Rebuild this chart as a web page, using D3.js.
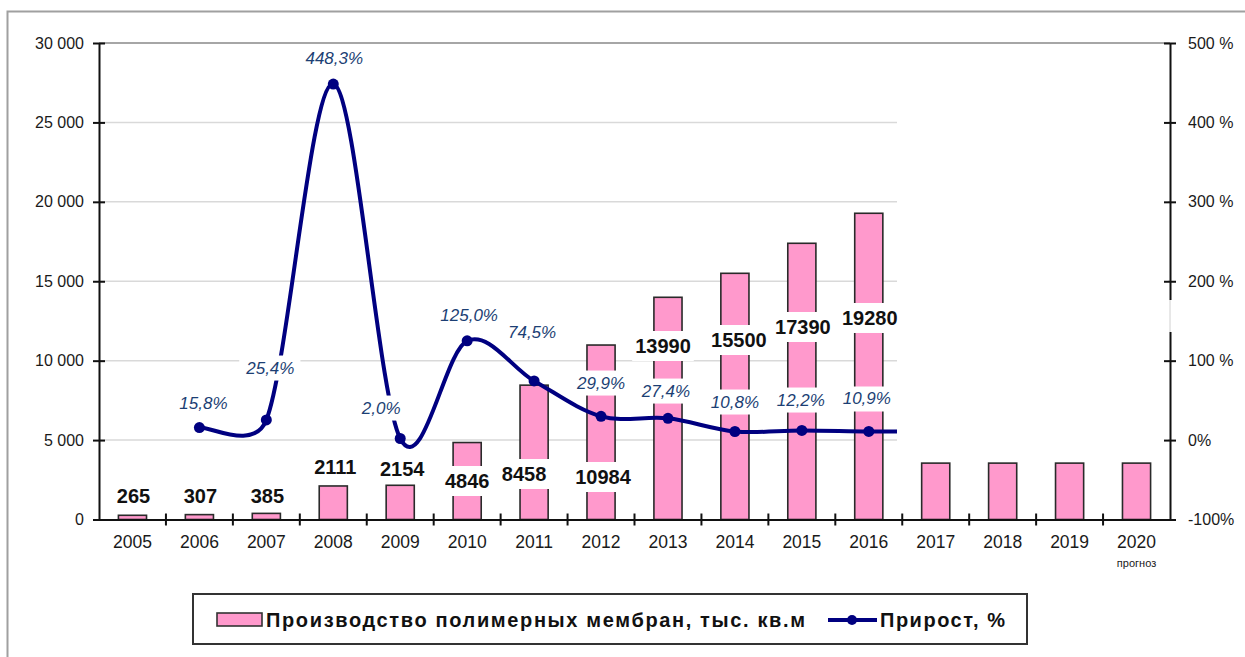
<!DOCTYPE html>
<html><head><meta charset="utf-8">
<script src="https://cdn.jsdelivr.net/npm/d3@7"></script>
<style>
body{margin:0;background:#fff;}
svg{display:block;font-family:"Liberation Sans",Arial,sans-serif;}
</style>
</head><body>
<svg id="c" width="1245" height="657"></svg>
<script>
// ---------------- data ----------------
const years = ["2005","2006","2007","2008","2009","2010","2011","2012","2013","2014","2015","2016","2017","2018","2019","2020"];
const production = [265,307,385,2111,2154,4846,8458,10984,13990,15500,17390,19280,3550,3550,3550,3550];
const productionShown = [true,true,true,true,true,true,true,true,true,true,true,true,false,false,false,false];
const growth = [null,15.8,25.4,448.3,2.0,125.0,74.5,29.9,27.4,10.8,12.2,10.9,11.0,null,null,null];
const growthShown = [false,true,true,true,true,true,true,true,true,true,true,true,false,false,false,false];
const leftTicks = [0,5000,10000,15000,20000,25000,30000];
const leftTickLabels = ["0","5 000","10 000","15 000","20 000","25 000","30 000"];
const rightTicks = [-100,0,100,200,300,400,500];
const rightTickLabels = ["-100%","0%","100 %","200 %","300 %","400 %","500 %"];
const yearNote = {year:"2020", text:"прогноз"};
const legendBars = "Производство полимерных мембран, тыс. кв.м";
const legendLine = "Прирост, %";

// ---------------- layout (label placement, in axis units / px offsets) ----------------
const barLabelAt = [1480,1480,1480,3305,3180,2424,2865,2676,10924,11301,12120,12687,null,null,null,null];
const barLabelDx = [1,1,1,2,2,0,-10,2,-5,4,1,1,0,0,0,0];
const growthLabelAt = [null,47.2,91.3,481.6,40.9,158,136.6,72.4,62.3,48.5,51,52.3,null,null,null,null];
const growthLabelDx = [0,4,4,1,-19,2,-2,0,-2,0,-1,-2,0,0,0,0];

// ---------------- chart ----------------
const svg = d3.select("#c");
const plot = {left:99, right:1170, top:43, bottom:519.5};
const x = d3.scaleBand().domain(years).range([plot.left, plot.right]).paddingInner(0.58).paddingOuter(0.29);
const y = d3.scaleLinear().domain([0,30000]).range([plot.bottom, plot.top]);
const y2 = d3.scaleLinear().domain([-100,500]).range([plot.bottom, plot.top]);
const cx = yr => x(yr) + x.bandwidth()/2;

// outer frame
svg.append("rect").attr("x",7.5).attr("y",11.5).attr("width",1400).attr("height",900)
  .attr("fill","none").attr("stroke","#a0a0a0").attr("stroke-width",2);

// gridlines
svg.append("g").selectAll("line").data(leftTicks.filter(t => t > 0 && t < 30000)).join("line")
  .attr("x1",plot.left).attr("x2",plot.right)
  .attr("y1",d => y(d)).attr("y2",d => y(d))
  .attr("stroke","#d9d9d9").attr("stroke-width",1.5);
svg.append("line").attr("x1",plot.left).attr("x2",plot.right)
  .attr("y1",y(30000)).attr("y2",y(30000)).attr("stroke","#a6a6a6").attr("stroke-width",2);

// bars
const barData = years.map((yr,i) => ({yr, v:production[i], i}));
svg.append("g").selectAll("rect").data(barData).join("rect")
  .attr("x",d => x(d.yr)).attr("width",x.bandwidth())
  .attr("y",d => y(d.v)).attr("height",d => y(0) - y(d.v))
  .attr("fill","#ff99cc").attr("stroke","#2a2a2a").attr("stroke-width",1.6);

// growth line: spreadsheet-style smoothed Bezier through the scaled points
const pts = years.map((yr,i) => ({yr, v:growth[i], i})).filter(d => d.v != null);
function smoothPath(P){
  const p = d3.path();
  const n = P.length;
  const ctl = (t, seg) => { const L = Math.hypot(t[0], t[1]); return L === 0 ? 0 : Math.min(L/6, seg/2)/L; };
  p.moveTo(P[0][0], P[0][1]);
  for (let i = 0; i < n-1; i++){
    const p0 = P[Math.max(i-1,0)], p1 = P[i], p2 = P[i+1], p3 = P[Math.min(i+2,n-1)];
    const seg = Math.hypot(p2[0]-p1[0], p2[1]-p1[1]);
    const t1 = [p2[0]-p0[0], p2[1]-p0[1]], t2 = [p3[0]-p1[0], p3[1]-p1[1]];
    const s1 = ctl(t1, seg), s2 = ctl(t2, seg);
    p.bezierCurveTo(p1[0]+t1[0]*s1, p1[1]+t1[1]*s1, p2[0]-t2[0]*s2, p2[1]-t2[1]*s2, p2[0], p2[1]);
  }
  return p.toString();
}
svg.append("path").attr("d", smoothPath(pts.map(d => [cx(d.yr), y2(d.v)])))
  .attr("fill","none").attr("stroke","#000080").attr("stroke-width",4).attr("stroke-linejoin","round");
svg.append("g").selectAll("circle").data(pts).join("circle")
  .attr("cx",d => cx(d.yr)).attr("cy",d => y2(d.v)).attr("r",5.5).attr("fill","#000080");

// erased (white) area of the original picture
svg.append("rect").attr("x",897).attr("y",60).attr("width",1168-897).attr("height",448-60).attr("fill","#fff");

// left axis
const gl = svg.append("g").attr("transform",`translate(${plot.left},0)`)
  .call(d3.axisLeft(y).tickValues(leftTicks).tickFormat((d,i) => leftTickLabels[i]).tickSizeInner(6).tickSizeOuter(0).tickPadding(9));
gl.select(".domain").attr("stroke","#111").attr("stroke-width",2);
gl.selectAll(".tick line").attr("x1",6).attr("stroke","#111").attr("stroke-width",2);
gl.selectAll(".tick text").attr("font-size",16).attr("fill","#1a1a1a").attr("font-family","Liberation Sans, Arial, sans-serif");

// right axis
const gr = svg.append("g").attr("transform",`translate(${plot.right},0)`)
  .call(d3.axisRight(y2).tickValues(rightTicks).tickFormat((d,i) => rightTickLabels[i]).tickSizeInner(6).tickSizeOuter(0).tickPadding(12));
gr.select(".domain").attr("stroke","#111").attr("stroke-width",2);
gr.selectAll(".tick line").attr("x1",-6).attr("stroke","#111").attr("stroke-width",2);
gr.selectAll(".tick text").attr("font-size",16).attr("fill","#1a1a1a").attr("font-family","Liberation Sans, Arial, sans-serif");
// gap in right axis line
svg.append("rect").attr("x",plot.right-4).attr("y",300).attr("width",8).attr("height",32).attr("fill","#fff");
svg.append("line").attr("x1",plot.right).attr("x2",plot.right).attr("y1",300).attr("y2",332).attr("stroke","#d0d0d0").attr("stroke-width",1);

// bottom axis
const gb = svg.append("g").attr("transform",`translate(0,${plot.bottom})`)
  .call(d3.axisBottom(x).tickSize(0).tickPadding(16.5));
gb.select(".domain").attr("stroke","#111").attr("stroke-width",2);
gb.selectAll(".tick text").attr("font-size",17.5).attr("fill","#1a1a1a").attr("font-family","Liberation Sans, Arial, sans-serif");
const bounds = years.map(yr => x(yr) - x.step()*x.paddingInner()/2).slice(1);
gb.append("g").selectAll("line").data(bounds).join("line")
  .attr("x1",d => d).attr("x2",d => d).attr("y1",-6).attr("y2",6)
  .attr("stroke","#111").attr("stroke-width",2);
svg.append("text").attr("x",cx(yearNote.year)).attr("y",567).attr("text-anchor","middle")
  .attr("font-size",11).attr("fill","#1a1a1a").text(yearNote.text);

// labels with white boxes
function boxedLabel(parent, tx, ty, str, opts){
  const g = parent.append("g");
  const r = g.append("rect").attr("fill","#fff");
  const t = g.append("text").attr("x",tx).attr("y",ty).attr("dy","0.35em").attr("text-anchor","middle")
    .attr("font-size",opts.size).attr("font-weight",opts.weight||"normal").attr("font-style",opts.style||"normal")
    .attr("fill",opts.color).attr("letter-spacing",opts.ls||0).text(str);
  const b = t.node().getBBox();
  r.attr("x",b.x - opts.px).attr("y",b.y - opts.py).attr("width",b.width + 2*opts.px).attr("height",b.height + 2*opts.py);
}
const lblLayer = svg.append("g");
barData.forEach(d => {
  if (!productionShown[d.i]) return;
  boxedLabel(lblLayer, cx(d.yr) + barLabelDx[d.i], y(barLabelAt[d.i]), String(d.v),
    {size:20, weight:"bold", color:"#111", px:3, py:4});
});
const fmt = v => d3.format(".1f")(v).replace(".", ",") + "%";
pts.forEach(d => {
  if (!growthShown[d.i]) return;
  boxedLabel(lblLayer, cx(d.yr) + growthLabelDx[d.i], y2(growthLabelAt[d.i]), fmt(d.v),
    {size:17, style:"italic", color:"#1c3f74", px:6, py:3});
});

// legend
const lg = svg.append("g");
lg.append("rect").attr("x",193).attr("y",594).attr("width",1027-193).attr("height",50)
  .attr("fill","#fff").attr("stroke","#333").attr("stroke-width",2);
lg.append("rect").attr("x",217).attr("y",613).attr("width",45).attr("height",13)
  .attr("fill","#ff99cc").attr("stroke","#333").attr("stroke-width",1.6);
lg.append("text").attr("x",266).attr("y",620).attr("dy","0.35em").attr("font-size",20).attr("font-weight","bold")
  .attr("fill","#111").attr("textLength",539).attr("lengthAdjust","spacing").text(legendBars);
lg.append("line").attr("x1",828).attr("x2",877).attr("y1",620).attr("y2",620).attr("stroke","#000080").attr("stroke-width",4);
lg.append("circle").attr("cx",852).attr("cy",620).attr("r",5).attr("fill","#000080");
lg.append("text").attr("x",880).attr("y",620).attr("dy","0.35em").attr("font-size",20).attr("font-weight","bold")
  .attr("fill","#111").attr("textLength",125).attr("lengthAdjust","spacing").text(legendLine);
</script>
</body></html>
